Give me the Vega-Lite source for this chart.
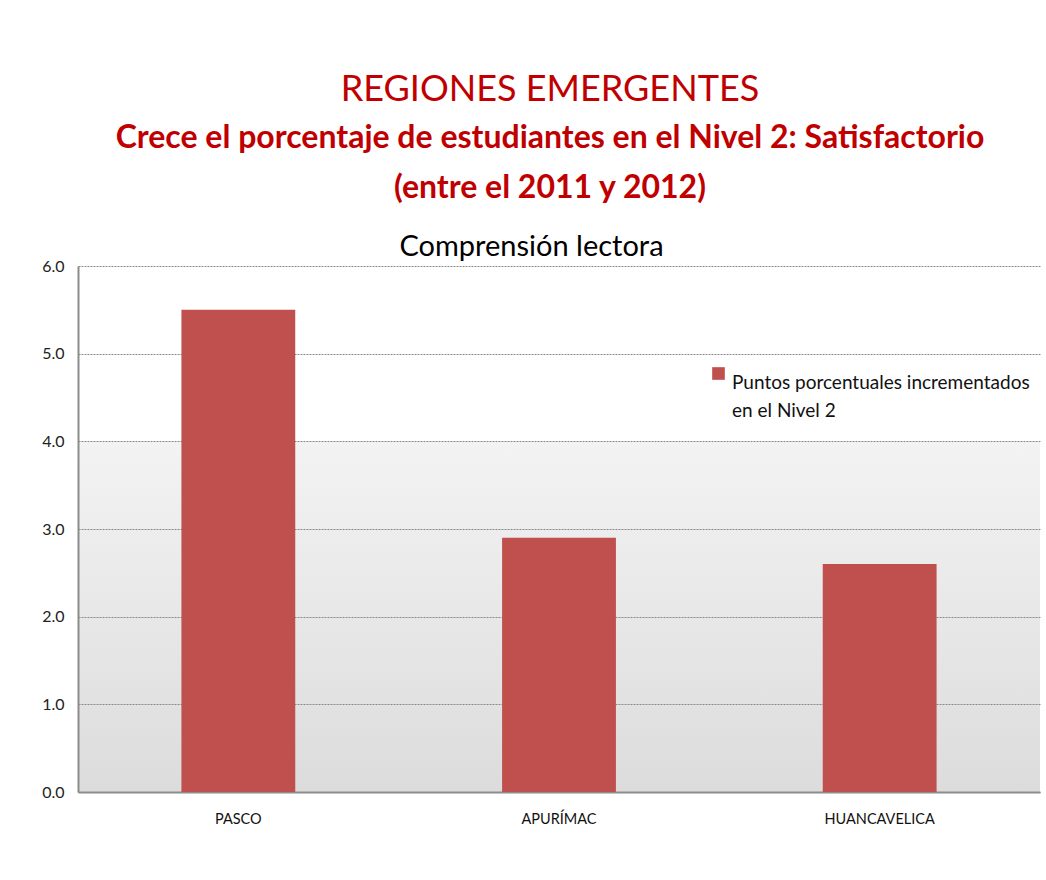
{
  "$schema": "https://vega.github.io/schema/vega-lite/v6.json",
  "autosize": {"type": "none"},
  "width": 962,
  "height": 526,
  "padding": {"left": 78, "top": 266, "right": 6, "bottom": 88},
  "background": "white",
  "config": {
    "font": "Lato",
    "style": {"guide-label": {"lineHeight": 28}},
    "view": {"stroke": null, "fill": {"gradient": "linear", "x1": 0, "y1": 0, "x2": 0, "y2": 1, "stops": [{"offset": 0, "color": "#ffffff"}, {"offset": 0.332, "color": "#ffffff"}, {"offset": 0.334, "color": "#f3f3f3"}, {"offset": 1, "color": "#dcdcdc"}]}}
  },
  "title": {
    "text": "REGIONES EMERGENTES",
    "subtitle": ["Crece el porcentaje de estudiantes en el Nivel 2: Satisfactorio", "(entre el 2011 y 2012)"],
    "anchor": "middle",
    "frame": "group",
    "dx": -9,
    "font": "Lato",
    "fontSize": 36,
    "fontWeight": "normal",
    "color": "#c00000",
    "subtitleFont": "Lato",
    "subtitleFontSize": 32,
    "subtitleFontWeight": "bold",
    "subtitleColor": "#c00000",
    "subtitleLineHeight": 50,
    "subtitlePadding": 14,
    "offset": 27
  },
  "data": {
    "values": [
      {"region": "PASCO", "valor": 5.5, "serie": "Puntos porcentuales incrementados en el Nivel 2"},
      {"region": "APURÍMAC", "valor": 2.9, "serie": "Puntos porcentuales incrementados en el Nivel 2"},
      {"region": "HUANCAVELICA", "valor": 2.6, "serie": "Puntos porcentuales incrementados en el Nivel 2"}
    ]
  },
  "resolve": {"axis": {"x": "independent"}},
  "layer": [
    {
      "mark": {"type": "bar"},
      "encoding": {
        "x": {
          "field": "region", "type": "nominal", "sort": null,
          "scale": {"paddingInner": 0.645, "paddingOuter": 0.3225},
          "axis": {"orient": "bottom", "title": null, "labelAngle": 0, "labelFontSize": 14.5, "labelColor": "#111", "labelPadding": 20, "ticks": false, "domainColor": "#8c8c8c", "domainWidth": 2}
        },
        "y": {
          "field": "valor", "type": "quantitative",
          "scale": {"domain": [0, 6]},
          "axis": {"title": null, "values": [0, 1, 2, 3, 4, 5, 6], "format": ".1f", "labelFontSize": 16, "labelColor": "#222", "labelPadding": 14, "ticks": false, "domainColor": "#8c8c8c", "domainWidth": 2, "gridColor": "#8a8a8a", "gridDash": [2, 1], "gridWidth": 1}
        },
        "color": {
          "field": "serie", "type": "nominal",
          "scale": {"range": ["#c0504d"]},
          "legend": {"title": null, "orient": "none", "legendX": 631, "legendY": 98, "symbolType": "square", "symbolSize": 160, "symbolStrokeWidth": 0, "labelFontSize": 19, "labelColor": "#111", "labelLimit": 400, "labelExpr": "['Puntos porcentuales incrementados', 'en el Nivel 2']", "labelBaseline": "top", "labelOffset": 4}
        }
      }
    },
    {
      "mark": {"type": "bar", "opacity": 0},
      "encoding": {
        "x": {
          "field": "region", "type": "nominal", "sort": null,
          "axis": {"orient": "top", "title": "Comprensión lectora", "labels": false, "ticks": false, "domain": false, "titleFontSize": 29, "titleFontWeight": "normal", "titleColor": "#000", "titleX": 453, "titleY": -20, "titleBaseline": "middle", "titleAnchor": "middle"}
        },
        "y": {"field": "valor", "type": "quantitative"}
      }
    }
  ]
}
